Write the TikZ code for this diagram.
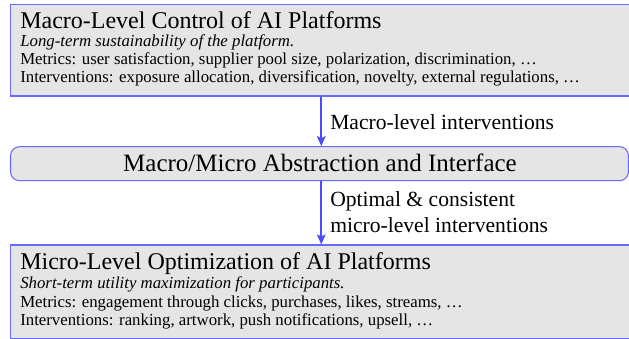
\documentclass[tikz,border=0pt]{standalone}
\usepackage{fontspec}
\setmainfont{Liberation Serif}
\usetikzlibrary{arrows.meta,fit}

\definecolor{panelfill}{RGB}{229,229,229}
\definecolor{panelline}{RGB}{105,105,255}
\definecolor{flowline}{RGB}{75,75,255}

\tikzset{
  panel/.style={draw=panelline, fill=panelfill, line width=0.8pt, inner sep=0pt},
  flow/.style={draw=flowline, line width=1.3pt, -{Stealth[length=7.5pt,width=6.5pt,inset=1.5pt]}},
  heading/.style={anchor=base west, inner sep=0pt, font=\fontsize{18}{20}\selectfont},
  detail/.style={anchor=base west, inner sep=0pt, font=\fontsize{12.6}{15}\selectfont},
  flowlabel/.style={anchor=base west, inner sep=0pt, font=\fontsize{16.2}{19}\selectfont},
}

\begin{document}
\begin{tikzpicture}[x=0.75pt,y=0.75pt,yscale=-1,xscale=1]
\useasboundingbox (0,0) rectangle (629,339);

% Boxes
\node [panel, fit={(10.5,4.5) (632,96)}] (macro) {};
\node [panel, rounded corners=6.75pt, fit={(10.5,146.7) (628.5,180.7)}] (abstr) {};
\node [panel, fit={(10.5,245) (632,338.5)}] (micro) {};

% Arrows
\draw [flow] (macro.south) -- (macro.south |- abstr.north) ;
\draw [flow] (macro.south |- abstr.south) -- (macro.south |- micro.north) ;

% Text Node
\node [heading] (macrotitle) at (20,28.3) {Macro-Level Control of AI Platforms};
\node [detail] (macrogoal) at (20,46.5) {\itshape Long-term sustainability of the platform.};
\node [detail] (macrometrics) at (20,64.3) {Metrics: user satisfaction, supplier pool size, polarization, discrimination, \ldots};
\node [detail] (macroactions) at (20,82.3) {Interventions: exposure allocation, diversification, novelty, external regulations, \ldots};

% Text Node
\node [anchor=base, inner sep=0pt, font=\fontsize{18.75}{21}\selectfont] (abstrtext) at (320,171.7) {Macro/Micro Abstraction and Interface};

% Text Node
\node [flowlabel] (downlabel) at (330,129.3) {Macro-level interventions};
\node [flowlabel] (uplabela) at (330,206.7) {Optimal \& consistent};
\node [flowlabel] (uplabelb) at (330,232.3) {micro-level interventions};

% Text Node
\node [heading] (microtitle) at (20,269.3) {Micro-Level Optimization of AI Platforms};
\node [detail] (microgoal) at (20,288.3) {\itshape Short-term utility maximization for participants.};
\node [detail] (micrometrics) at (20,307.3) {Metrics: engagement through clicks, purchases, likes, streams, \ldots};
\node [detail] (microactions) at (20,325.7) {Interventions: ranking, artwork, push notifications, upsell, \ldots};

\end{tikzpicture}
\end{document}
